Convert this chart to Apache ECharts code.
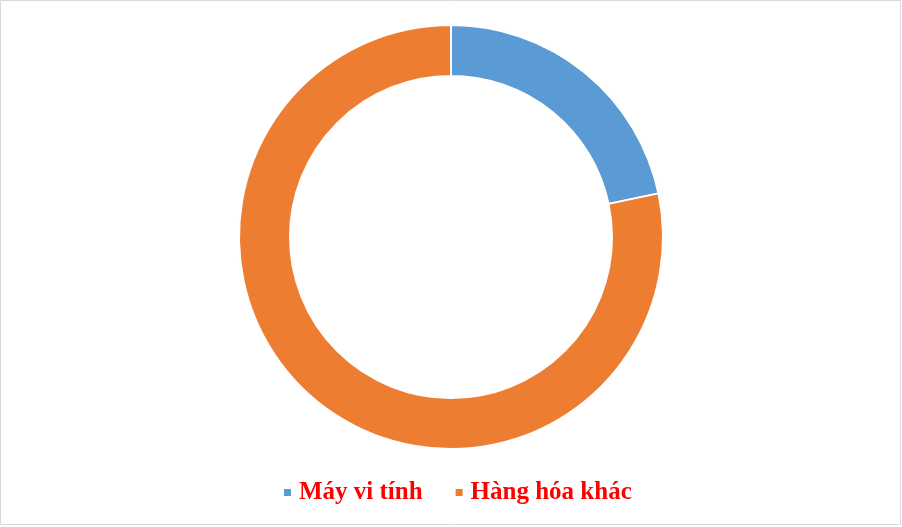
<!DOCTYPE html>
<html>
<head>
<meta charset="utf-8">
<script src="https://cdn.jsdelivr.net/npm/echarts@6/dist/echarts.min.js"></script>
<style>
  html, body { margin: 0; padding: 0; background: #fff; }
  #chart { width: 902px; height: 527px; }
</style>
</head>
<body>
<div id="chart"></div>
<script>
var categories = ['Máy vi tính', 'Hàng hóa khác'];
var shares = [21.7, 78.3];
var colors = ['#5b9bd5', '#ed7d31'];

var pieData = [];
for (var i = 0; i < categories.length; i++) {
    pieData.push({ name: categories[i], value: shares[i], itemStyle: { color: colors[i] } });
}

var option = {
    backgroundColor: '#fff',
    animation: false,
    graphic: [{
        type: 'rect',
        shape: { x: 0.5, y: 0.5, width: 900, height: 524 },
        style: { fill: 'none', stroke: '#d9d9d9', lineWidth: 1 }
    }],
    legend: {
        data: categories,
        left: 277,
        top: 475,
        icon: 'rect',
        itemWidth: 9,
        itemHeight: 9,
        itemGap: 31,
        textStyle: {
            fontFamily: 'Liberation Serif',
            fontWeight: 'bold',
            fontSize: 25,
            color: '#ff0000',
            padding: [0, 0, 0, 2]
        }
    },
    series: [{
        type: 'pie',
        center: [451, 237],
        radius: [161, 212],
        startAngle: 90,
        clockwise: true,
        label: { show: false },
        labelLine: { show: false },
        itemStyle: { borderColor: '#fff', borderWidth: 2 },
        emphasis: { disabled: true },
        data: pieData
    }]
};

var myChart = echarts.init(document.getElementById('chart'));
myChart.setOption(option);
</script>
</body>
</html>
